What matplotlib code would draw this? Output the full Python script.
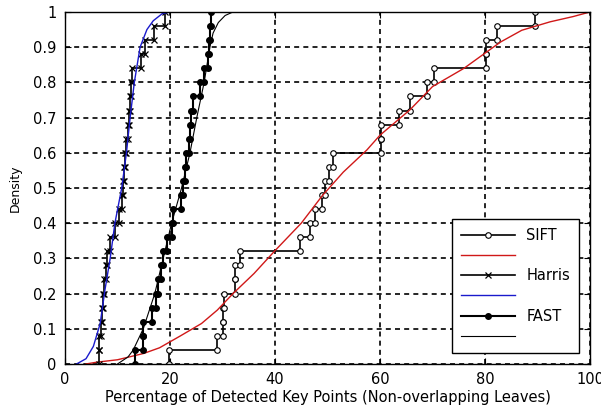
import matplotlib
matplotlib.use("Agg")
import matplotlib.pyplot as plt
import numpy as np

# sample values (sorted) read from the empirical CDF steps, 25 per detector
sift_x = [19.8, 28.9, 30.0, 30.1, 30.3, 32.4, 32.4, 33.3, 44.8, 46.7, 47.6, 49.0, 49.5,
          50.3, 51.0, 60.1, 60.1, 63.7, 65.7, 68.9, 70.2, 80.2, 80.2, 82.2, 89.5]
harris_x = [6.5, 6.5, 6.8, 7.0, 7.2, 7.5, 7.8, 8.0, 8.5, 9.6, 10.3, 10.8, 11.0,
            11.2, 11.4, 11.6, 11.9, 12.1, 12.3, 12.5, 12.7, 14.4, 15.3, 17.0, 19.0]
fast_x = [13.3, 14.9, 14.9, 16.6, 17.3, 17.8, 18.3, 18.7, 19.4, 20.4, 20.6, 22.0, 22.4,
          22.8, 23.0, 23.6, 23.8, 24.0, 24.4, 25.7, 26.5, 27.2, 27.5, 27.6, 27.9]

# fitted CDF curves
sift_fit_x = [4, 6, 10, 15, 18, 20, 22, 26, 29, 32, 36, 40, 45, 49, 53, 57.5, 60, 65.7,
              70, 76, 80, 83, 87, 92.4, 96.8, 100]
sift_fit_y = [0, 0.005, 0.012, 0.03, 0.046, 0.063, 0.08, 0.115, 0.153, 0.2, 0.257, 0.322,
              0.4, 0.478, 0.545, 0.608, 0.65, 0.722, 0.788, 0.84, 0.883, 0.915, 0.948,
              0.972, 0.987, 1.0]
harris_fit_x = [2.2, 4, 5.4, 6.7, 7.6, 8.6, 9.5, 10.8, 11.7, 12.4, 13.2, 14.3, 15.6, 16.8,
                18.5, 20]
harris_fit_y = [0, 0.015, 0.05, 0.115, 0.21, 0.3, 0.4, 0.5, 0.6, 0.7, 0.8, 0.9, 0.95, 0.975,
                0.995, 1.0]
fast_fit_x = [10, 12, 13, 14.9, 17.1, 18.7, 20.3, 22.2, 23.8, 25.1, 26.5, 27.6, 28.2, 29.2,
              30.5, 32]
fast_fit_y = [0, 0.02, 0.04, 0.1, 0.2, 0.3, 0.4, 0.5, 0.6, 0.7, 0.8, 0.9, 0.94, 0.97, 0.99,
              1.0]

xticks = [0, 20, 40, 60, 80, 100]
yticks = [0, 0.1, 0.2, 0.3, 0.4, 0.5, 0.6, 0.7, 0.8, 0.9, 1]
ytick_labels = ['0', '0.1', '0.2', '0.3', '0.4', '0.5', '0.6', '0.7', '0.8', '0.9', '1']


def stairs(samples):
    xs = np.sort(np.array(samples))
    n = len(xs)
    f = np.arange(0, n + 1) / n
    vx = np.repeat(xs, 2)
    vy = np.empty(2 * n)
    vy[0::2] = f[:-1]
    vy[1::2] = f[1:]
    return vx, vy


plt.rcParams['font.family'] = 'DejaVu Sans'

fig = plt.figure(figsize=(6.01, 4.07), dpi=100)
ax = fig.add_axes([0.1082, 0.1057, 0.8735, 0.8649])

grid_style = dict(color='black', linestyle=(0, (3, 2.5)), linewidth=1.2)
ax.set_axisbelow(True)
ax.grid(True, **grid_style)

sx, sy = stairs(sift_x)
h1, = ax.plot(sx, sy, color='black', lw=1.2, marker='o', ms=4, mfc='white', mec='black', mew=0.8)
h2, = ax.plot(sift_fit_x, sift_fit_y, color='#d01818', lw=1.0)

hx, hy = stairs(harris_x)
h3, = ax.plot(hx, hy, color='black', lw=1.2, marker='x', ms=4.5, mew=0.9)
h4, = ax.plot(harris_fit_x, harris_fit_y, color='#1a1acc', lw=1.0)

fx, fy = stairs(fast_x)
h5, = ax.plot(fx, fy, color='black', lw=1.5, marker='o', ms=4, mfc='black', mec='black')
h6, = ax.plot(fast_fit_x, fast_fit_y, color='black', lw=0.8)

ax.set_xlim(0, 100)
ax.set_ylim(0, 1)
ax.set_xticks(xticks)
ax.set_yticks(yticks)
ax.set_yticklabels(ytick_labels)
ax.tick_params(direction='in', top=True, right=True, length=4, labelsize=10.5, pad=6)
for s in ax.spines.values():
    s.set_linewidth(1.0)

ax.set_xlabel('Percentage of Detected Key Points (Non-overlapping Leaves)', fontsize=10.5, labelpad=2)
ax.set_ylabel('Density', fontsize=9, labelpad=8)

leg = ax.legend([h1, h2, h3, h4, h5, h6], ['SIFT', '', 'Harris', '', 'FAST', ''],
                loc='lower right', bbox_to_anchor=(0.979, 0.032), borderaxespad=0,
                fontsize=10.5, handlelength=3.7, labelspacing=0.36, fancybox=False,
                edgecolor='black', framealpha=1, borderpad=0.6)
leg.get_frame().set_linewidth(1.0)

fig.savefig('out.png', dpi=100)
